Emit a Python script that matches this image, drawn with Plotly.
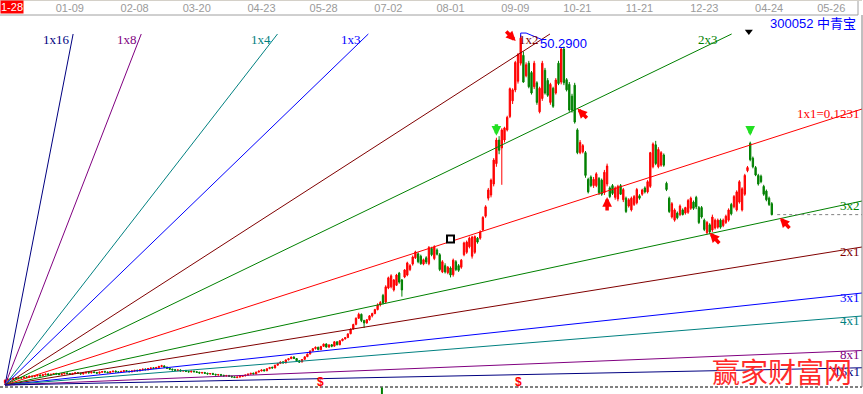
import plotly.graph_objects as go

# ---------------- data ----------------
date_ticks = ["01-09", "02-08", "03-20", "04-23", "05-28", "07-02", "08-01",
              "09-09", "10-21", "11-21", "12-23", "04-24", "05-26"]
date_tick_bars = [24, 48, 71, 95, 118, 142, 165, 189, 212, 235, 259, 283, 306]
start_label = "1-28"
stock_title = "300052 中青宝"
watermark = "赢家财富网"

opens = [
    6.00, 6.32, 6.48, 6.42, 6.58, 6.50, 6.65, 6.60, 6.74, 6.68,
    6.82, 6.76, 6.86, 6.96, 6.88, 7.00, 7.10, 6.96, 7.06, 7.16,
    7.12, 7.02, 7.12, 7.22, 7.15, 7.06, 7.16, 7.26, 7.18, 7.10,
    7.22, 7.31, 7.24, 7.36, 7.28, 7.20, 7.32, 7.42, 7.34, 7.26,
    7.38, 7.46, 7.36, 7.30, 7.42, 7.52, 7.44, 7.38, 7.48, 7.56,
    7.50, 7.62, 7.72, 7.64, 7.78, 7.88, 7.80, 7.92, 8.05, 8.12,
    7.96, 7.84, 7.70, 7.64, 7.54, 7.60, 7.48, 7.54, 7.42, 7.36,
    7.45, 7.38, 7.30, 7.22, 7.28, 7.18, 7.10, 7.16, 7.05, 6.97,
    7.02, 6.92, 6.85, 6.90, 6.80, 6.72, 6.64, 6.70, 6.78, 6.86,
    6.95, 7.08, 7.20, 7.10, 7.34, 7.48, 7.62, 7.50, 7.78, 7.95,
    7.86, 8.22, 8.44, 8.64, 8.50, 8.90, 9.06, 9.26, 9.06, 8.78,
    8.62, 8.96, 9.30, 9.64, 10.04, 10.34, 10.50, 10.20, 10.62, 10.92,
    10.52, 10.82, 10.64, 11.20, 10.82, 11.34, 11.56, 11.74, 12.22, 12.82,
    13.42, 14.20, 14.70, 13.90, 13.60, 14.00, 14.50, 14.80, 15.30, 15.90,
    17.10, 16.27, 18.05, 18.20, 17.80, 18.40, 19.95, 19.07, 19.45, 19.70,
    20.40, 21.10, 21.90, 22.40, 22.10, 21.10, 21.90, 21.15, 23.10, 21.80,
    22.90, 22.30, 20.10, 20.90, 20.00, 20.60, 19.75, 21.40, 20.90, 20.70,
    22.30, 22.60, 23.30, 22.10, 22.60, 24.40, 24.40, 25.45, 27.20, 29.50,
    29.90, 31.30, 33.90, 36.90, 35.90, 36.91, 38.19, 39.90, 41.90, 43.28,
    44.40, 46.70, 47.70, 45.10, 46.70, 45.50, 43.70, 44.20, 40.50, 42.20,
    45.80, 44.50, 41.70, 43.50, 42.90, 46.70, 44.30, 48.50, 44.60, 44.00,
    42.50, 43.90, 38.20, 35.30, 35.40, 35.30, 31.90, 32.20, 31.10, 31.10,
    32.00, 31.80, 30.20, 31.30, 30.80, 31.10, 29.60, 29.40, 31.10, 29.30,
    29.50, 28.50, 28.00, 28.70, 28.90, 29.80, 30.00, 30.80, 30.30, 31.00,
    33.50, 36.30, 33.50, 33.70, 35.00, 31.40, 29.50, 27.10, 26.70, 27.60,
    27.40, 28.00, 27.60, 27.70, 28.20, 29.00, 29.60, 28.30, 28.30, 26.70,
    25.10, 26.10, 25.44, 25.70, 25.80, 26.70, 26.00, 26.40, 26.70, 28.70,
    28.40, 28.00, 29.00, 28.00, 30.00, 33.00, 36.50, 34.60, 33.40, 32.40,
    32.30, 31.00, 30.40, 29.50, 28.80,
]
highs = [
    6.38, 6.52, 6.55, 6.62, 6.66, 6.70, 6.72, 6.78, 6.82, 6.88,
    6.90, 6.96, 7.02, 7.04, 7.08, 7.16, 7.18, 7.12, 7.22, 7.24,
    7.18, 7.20, 7.28, 7.30, 7.22, 7.24, 7.32, 7.34, 7.25, 7.30,
    7.38, 7.38, 7.42, 7.44, 7.35, 7.40, 7.48, 7.50, 7.40, 7.45,
    7.52, 7.54, 7.44, 7.50, 7.58, 7.60, 7.52, 7.56, 7.62, 7.64,
    7.70, 7.78, 7.80, 7.86, 7.94, 7.96, 8.00, 8.14, 8.26, 8.20,
    8.04, 7.92, 7.78, 7.72, 7.68, 7.68, 7.60, 7.62, 7.50, 7.52,
    7.52, 7.46, 7.38, 7.36, 7.36, 7.26, 7.22, 7.24, 7.12, 7.10,
    7.10, 7.00, 6.98, 6.98, 6.88, 6.80, 6.78, 6.86, 6.92, 7.02,
    7.12, 7.22, 7.26, 7.38, 7.52, 7.66, 7.68, 7.82, 8.00, 8.02,
    8.28, 8.50, 8.70, 8.72, 8.96, 9.12, 9.32, 9.34, 9.12, 8.86,
    9.00, 9.34, 9.70, 10.10, 10.40, 10.60, 10.56, 10.68, 10.98, 11.00,
    10.88, 10.90, 11.28, 11.24, 11.40, 11.62, 11.80, 12.28, 12.90, 13.50,
    14.30, 14.90, 14.80, 14.00, 14.10, 14.60, 14.90, 15.40, 16.10, 16.40,
    17.30, 18.40, 19.50, 19.80, 19.20, 19.85, 20.10, 19.20, 20.45, 21.40,
    21.10, 22.20, 22.80, 22.60, 22.30, 21.80, 22.10, 23.40, 23.30, 23.50,
    23.10, 22.50, 21.60, 21.20, 20.85, 20.80, 21.80, 21.60, 21.10, 21.75,
    23.95, 24.10, 24.60, 24.70, 24.75, 24.55, 25.40, 27.20, 28.60, 30.80,
    32.00, 34.60, 37.20, 37.40, 38.40, 38.60, 40.00, 43.60, 43.50, 47.00,
    48.00, 50.29, 48.20, 46.80, 47.00, 45.70, 47.00, 44.40, 43.70, 47.00,
    46.10, 44.80, 44.20, 43.70, 44.80, 47.00, 48.70, 48.80, 44.80, 44.30,
    42.80, 44.20, 38.40, 36.90, 36.40, 35.50, 32.10, 32.40, 32.20, 32.80,
    32.20, 32.00, 33.10, 33.90, 31.00, 31.30, 31.00, 31.20, 31.30, 30.80,
    29.70, 29.50, 29.70, 29.90, 30.80, 30.00, 30.70, 31.00, 31.80, 35.40,
    36.60, 36.80, 36.00, 35.50, 35.20, 31.60, 29.70, 29.00, 28.20, 27.80,
    28.70, 28.20, 28.40, 29.40, 29.70, 29.20, 29.80, 28.50, 28.50, 26.90,
    26.60, 26.30, 27.40, 26.90, 26.90, 26.90, 26.90, 27.40, 28.20, 28.90,
    29.90, 30.50, 31.80, 30.90, 32.60, 33.60, 36.70, 34.80, 33.60, 32.60,
    32.50, 31.20, 30.60, 29.70, 29.00,
]
lows = [
    5.69, 6.24, 6.32, 6.34, 6.42, 6.42, 6.50, 6.52, 6.58, 6.60,
    6.66, 6.68, 6.78, 6.78, 6.80, 6.92, 6.90, 6.88, 6.98, 7.02,
    6.94, 6.94, 7.04, 7.06, 6.98, 6.98, 7.08, 7.10, 7.02, 7.02,
    7.14, 7.16, 7.16, 7.20, 7.12, 7.12, 7.24, 7.26, 7.18, 7.18,
    7.30, 7.28, 7.22, 7.22, 7.34, 7.36, 7.30, 7.30, 7.40, 7.42,
    7.42, 7.54, 7.56, 7.56, 7.70, 7.72, 7.72, 7.84, 7.96, 7.86,
    7.74, 7.62, 7.54, 7.46, 7.46, 7.40, 7.40, 7.34, 7.28, 7.28,
    7.30, 7.22, 7.14, 7.14, 7.10, 7.02, 7.02, 6.97, 6.90, 6.89,
    6.84, 6.77, 6.77, 6.72, 6.64, 6.57, 6.56, 6.62, 6.70, 6.78,
    6.90, 7.02, 7.06, 7.06, 7.28, 7.42, 7.44, 7.46, 7.70, 7.80,
    7.82, 8.15, 8.36, 8.44, 8.46, 8.82, 8.98, 9.00, 8.70, 8.52,
    8.58, 8.90, 9.24, 9.58, 9.96, 10.20, 10.12, 10.14, 10.54, 10.46,
    10.44, 10.50, 10.58, 10.74, 10.76, 11.26, 11.48, 11.66, 12.16, 12.76,
    13.30, 14.10, 13.70, 12.95, 13.50, 13.90, 14.30, 14.70, 15.20, 15.70,
    15.95, 16.10, 17.90, 18.00, 17.60, 18.30, 18.60, 16.95, 19.30, 19.55,
    20.20, 20.90, 21.75, 21.20, 21.00, 20.95, 21.10, 20.95, 22.10, 21.60,
    22.20, 20.20, 19.95, 19.90, 19.80, 19.40, 19.50, 20.20, 20.10, 20.50,
    22.10, 22.40, 23.10, 21.80, 22.40, 23.70, 24.20, 25.30, 27.00, 29.20,
    29.60, 31.00, 33.50, 35.10, 31.20, 36.60, 38.00, 39.70, 41.50, 43.00,
    44.10, 46.40, 44.20, 44.90, 43.50, 42.70, 43.40, 41.40, 40.30, 41.90,
    42.70, 42.40, 41.40, 41.00, 42.70, 43.90, 44.00, 43.90, 43.10, 40.50,
    40.40, 39.00, 35.10, 35.10, 35.20, 32.10, 30.10, 30.90, 30.80, 30.90,
    29.90, 29.80, 29.90, 31.00, 29.50, 29.90, 29.30, 29.10, 29.90, 29.00,
    27.60, 28.30, 27.80, 28.50, 28.70, 29.30, 29.80, 30.10, 30.10, 30.80,
    33.30, 33.70, 33.30, 33.50, 33.50, 30.40, 27.60, 26.90, 26.50, 26.80,
    27.20, 27.30, 27.40, 27.50, 28.00, 28.00, 28.10, 26.20, 26.90, 25.30,
    24.90, 24.90, 25.20, 25.50, 25.60, 25.60, 25.80, 26.20, 26.50, 27.30,
    28.20, 27.80, 28.80, 27.80, 29.80, 32.80, 34.20, 33.30, 32.30, 31.10,
    31.40, 29.80, 29.10, 28.50, 27.30,
]
closes = [
    6.30, 6.45, 6.40, 6.55, 6.50, 6.62, 6.58, 6.70, 6.66, 6.80,
    6.74, 6.88, 6.95, 6.86, 7.00, 7.08, 6.98, 7.05, 7.15, 7.10,
    7.02, 7.12, 7.20, 7.14, 7.06, 7.16, 7.25, 7.18, 7.10, 7.22,
    7.30, 7.24, 7.35, 7.28, 7.20, 7.32, 7.40, 7.34, 7.26, 7.38,
    7.45, 7.36, 7.30, 7.42, 7.50, 7.44, 7.38, 7.48, 7.55, 7.50,
    7.62, 7.70, 7.64, 7.78, 7.85, 7.80, 7.92, 8.05, 8.15, 7.95,
    7.82, 7.70, 7.62, 7.55, 7.60, 7.48, 7.52, 7.42, 7.36, 7.44,
    7.38, 7.30, 7.22, 7.28, 7.18, 7.10, 7.15, 7.05, 6.98, 7.02,
    6.92, 6.85, 6.90, 6.80, 6.72, 6.65, 6.70, 6.78, 6.85, 6.95,
    7.08, 7.18, 7.10, 7.34, 7.46, 7.60, 7.50, 7.76, 7.92, 7.86,
    8.20, 8.42, 8.62, 8.50, 8.88, 9.04, 9.24, 9.06, 8.78, 8.60,
    8.94, 9.28, 9.62, 10.02, 10.32, 10.50, 10.20, 10.60, 10.90, 10.52,
    10.80, 10.62, 11.20, 10.82, 11.32, 11.54, 11.72, 12.20, 12.80, 13.40,
    14.20, 14.70, 13.90, 13.60, 14.00, 14.50, 14.80, 15.30, 15.90, 16.20,
    16.15, 18.20, 19.35, 19.60, 19.07, 19.70, 18.80, 17.80, 20.35, 21.25,
    20.90, 22.00, 22.65, 21.40, 21.15, 21.65, 21.35, 23.20, 22.30, 23.30,
    22.35, 20.40, 21.40, 20.10, 20.70, 19.70, 21.60, 20.40, 20.30, 21.60,
    23.80, 23.90, 24.40, 24.55, 24.60, 23.90, 25.20, 27.05, 28.40, 30.55,
    31.80, 34.36, 36.91, 35.60, 38.19, 38.45, 39.80, 43.45, 43.30, 46.80,
    47.80, 49.90, 44.30, 46.50, 43.70, 42.90, 46.70, 41.70, 43.50, 46.70,
    42.90, 42.60, 44.00, 41.20, 44.56, 44.10, 48.50, 44.20, 43.30, 40.73,
    40.70, 39.20, 35.30, 36.60, 36.20, 32.40, 30.30, 31.10, 31.90, 32.60,
    30.20, 30.00, 32.80, 33.60, 29.70, 30.10, 30.80, 31.00, 30.00, 30.60,
    27.80, 29.30, 29.50, 29.70, 30.60, 29.50, 30.55, 30.30, 31.60, 35.30,
    36.40, 33.90, 35.70, 35.30, 33.70, 30.60, 27.80, 28.80, 28.00, 27.00,
    28.50, 27.40, 28.30, 29.20, 29.50, 28.20, 28.40, 26.40, 27.10, 25.50,
    26.40, 25.20, 27.10, 26.70, 26.70, 25.80, 26.70, 27.20, 28.00, 27.50,
    29.70, 30.30, 31.60, 30.70, 32.40, 33.40, 34.40, 33.50, 32.45, 31.30,
    31.60, 30.00, 29.30, 28.70, 27.40,
]

gann_names = ["1x16", "1x8", "1x4", "1x3", "1x2", "2x3", "1x1=0.1231",
              "3x2", "2x1", "3x1", "4x1", "8x1", "16x1"]
gann_ratios = [16, 8, 4, 3, 2, 1.5, 1, 2 / 3, 1 / 2, 1 / 3, 1 / 4, 1 / 8, 1 / 16]
gann_colors = ["#000080", "#800080", "#008080", "#0000FF", "#800000", "#008000",
               "#FF0000", "#008000", "#800000", "#0000FF", "#008080", "#800080",
               "#000080"]
gann_step = 0.1108          # price per bar of the 1x1 line (chart scale)
gann_origin_bar = 0

# signal markers (bar index)
line_arrow_bars = [212, 223, 261, 287]
line_arrow_ratios = [1.5, 1, 2 / 3, 2 / 3]
top_arrow_bars = [182, 276]
dividend_bars = [117, 190]
note_bars = [165]
note_prices = [24.3]
cursor_bar = 275

# ---------------- scales ----------------
N = len(closes)
bars = list(range(N))
X_MIN, X_MAX = -1.852, 317.41
Y_MIN, Y_MAX = 5.435, 52.84
P_CAP = 50.42       # fan lines stop here
P_LBL = 49.72       # label row of the steep fan lines
p0 = lows[gann_origin_bar]

fig = go.Figure()

# Gann fan
for name, r, col in zip(gann_names, gann_ratios, gann_colors):
    s = gann_step * r
    x_end = min(X_MAX, gann_origin_bar + (P_CAP - p0) / s)
    fig.add_trace(go.Scatter(x=[gann_origin_bar, x_end],
                             y=[p0, p0 + s * (x_end - gann_origin_bar)],
                             mode="lines", line=dict(color=col, width=1),
                             hoverinfo="skip"))
    if x_end < X_MAX:
        fig.add_annotation(x=gann_origin_bar + (P_LBL - p0) / s, y=P_LBL,
                           text=name, showarrow=False, xanchor="right",
                           yanchor="middle",
                           font=dict(family="Liberation Serif", size=13, color=col))
    else:
        fig.add_annotation(x=X_MAX, y=p0 + s * (X_MAX - gann_origin_bar),
                           text=name, showarrow=False, xanchor="right",
                           yanchor="middle", yshift=-4,
                           font=dict(family="Liberation Serif", size=13, color=col))

# candles
fig.add_trace(go.Candlestick(
    x=bars, open=opens, high=highs, low=lows, close=closes,
    increasing=dict(line=dict(color="#FF0000", width=1), fillcolor="#FF0000"),
    decreasing=dict(line=dict(color="#008000", width=1), fillcolor="#008000"),
    whiskerwidth=0, hoverinfo="skip"))

# last price dotted line
fig.add_shape(type="line", x0=N + 1, x1=X_MAX, y0=closes[-1], y1=closes[-1],
              line=dict(color="#808080", width=1, dash="dot"))

# peak marker
pk = max(highs)
pb = highs.index(pk)
fig.add_trace(go.Scatter(x=[pb, pb, pb + 2, pb + 8], y=[pk - 0.3, pk + 0.25, pk + 0.25, pk - 0.6],
                         mode="lines", line=dict(color="#0000FF", width=1), hoverinfo="skip"))
fig.add_annotation(x=pb + 6.5, y=pk - 1.05, text=f"{pk:.4f}", showarrow=False,
                   xanchor="left", yanchor="middle",
                   font=dict(family="Liberation Sans", size=13, color="#0000FF"))

# arrows (block style: short thick shaft + head)
ARW = dict(text="", showarrow=True, arrowhead=2, arrowsize=0.55, arrowwidth=3.5)
fig.add_annotation(x=pb, y=pk, xshift=-5, yshift=-6, arrowcolor="#FF0000",
                   ax=-11, ay=-11, **ARW)
offs = [(11, 11, 0), (0, 15, -6), (11, 12, 1), (11, 12, 1)]
for b, r, (ax, ay, ys) in zip(line_arrow_bars, line_arrow_ratios, offs):
    fig.add_annotation(x=b, y=p0 + gann_step * r * (b - gann_origin_bar), yshift=ys,
                       arrowcolor="#FF0000", ax=ax, ay=ay, **ARW)
for b, so in zip(top_arrow_bars, [2, 6]):
    fig.add_annotation(x=b, y=highs[b], arrowcolor="#22E022", ax=0, ay=-15,
                       standoff=so, **ARW)

# misc markers
fig.add_trace(go.Scatter(x=note_bars, y=note_prices, mode="markers",
                         marker=dict(symbol="square", size=7, color="white",
                                     line=dict(color="black", width=2)),
                         hoverinfo="skip"))
fig.add_trace(go.Scatter(x=[cursor_bar + 0.5], y=[50.75], mode="markers",
                         marker=dict(symbol="triangle-down", size=7, color="black"),
                         hoverinfo="skip"))
for b in dividend_bars:
    fig.add_annotation(x=b, y=6.07, text="<b>$</b>", showarrow=False,
                       font=dict(family="Liberation Sans", size=12, color="#FF0000"))

# header / frame
H = 372.0
fig.add_shape(type="line", xref="paper", yref="paper", x0=0, x1=1, y0=0, y1=0,
              line=dict(color="black", width=1, dash="3px,2px"))
fig.add_shape(type="line", xref="paper", yref="paper", x0=1, x1=1, y0=0, y1=1,
              line=dict(color="#808080", width=1))
fig.add_shape(type="line", xref="paper", yref="paper", x0=0, x1=858 / 862, y0=1, y1=1,
              line=dict(color="#A0A0A0", width=1))
fig.add_shape(type="line", xref="paper", yref="paper", x0=858 / 862, x1=858 / 862,
              y0=1, y1=1 + 15 / H, line=dict(color="#A0A0A0", width=1))
fig.add_shape(type="line", xref="paper", yref="paper", x0=0, x1=1,
              y0=1 + 14.5 / H, y1=1 + 14.5 / H, line=dict(color="#D4D0C8", width=1))
fig.add_shape(type="line", xref="x", yref="paper", x0=139.6, x1=139.6,
              y0=-7 / H, y1=-0.5 / H, line=dict(color="#008000", width=2))

fig.add_annotation(xref="paper", yref="paper", x=0, y=1 + 15 / H, xanchor="left",
                   yanchor="top", text=start_label, showarrow=False,
                   bgcolor="#FF0000", borderpad=0,
                   font=dict(family="Liberation Sans", size=11, color="white"))
fig.add_annotation(xref="paper", yref="paper", x=858 / 862, y=(387 - 24) / H,
                   xanchor="right", yanchor="middle", text=stock_title, showarrow=False,
                   font=dict(family="Liberation Sans, Noto Sans CJK SC", size=13,
                             color="#0000FF"))
fig.add_annotation(xref="paper", yref="paper", x=782 / 862, y=(387 - 371) / H,
                   xanchor="center", yanchor="middle", text=watermark, showarrow=False,
                   font=dict(family="Noto Sans CJK SC", size=28, color="#FF2A2A"))

fig.update_layout(
    width=863, height=394,
    margin=dict(l=0, r=1, t=15, b=7, autoexpand=False),
    paper_bgcolor="white", plot_bgcolor="white",
    showlegend=False,
    xaxis=dict(range=[X_MIN, X_MAX], side="top", tickmode="array",
               tickvals=date_tick_bars, ticktext=date_ticks, ticks="",
               showgrid=False, zeroline=False, showline=False,
               tickfont=dict(family="Liberation Sans Narrow, Liberation Sans",
                             size=11, color="#9A9A9A"),
               rangeslider=dict(visible=False), fixedrange=True),
    yaxis=dict(range=[Y_MIN, Y_MAX], showgrid=False, zeroline=False,
               showticklabels=False, showline=False, fixedrange=True),
)

fig.write_html("out.html", config={"displayModeBar": False},
               post_script="document.body.style.margin='0';document.body.style.overflow='hidden';")
